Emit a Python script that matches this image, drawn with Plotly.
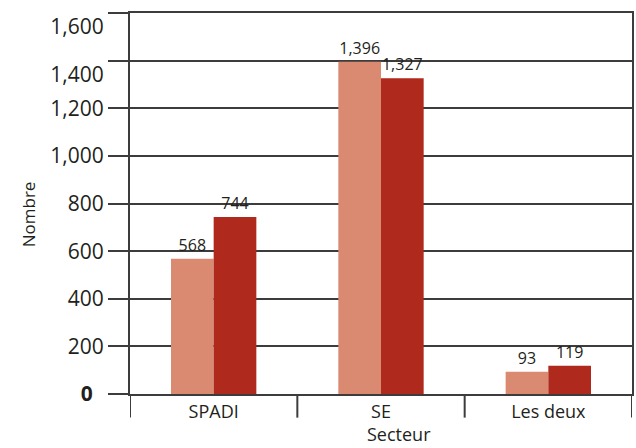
import plotly.graph_objects as go

categories = ["SPADI", "SE", "Les deux"]
series_a = [568, 1396, 93]
series_b = [744, 1327, 119]
y_tick_values = [0, 200, 400, 600, 800, 1000, 1200, 1400, 1600]
y_tick_labels = ["<b>0</b>&nbsp;&nbsp;", "200", "400", "600", "800", "1,000", "1,200",
                 "<br>1,400", "<br>1,600"]

FONT = "Open Sans"
LINE = "#3c3c3c"
TXT = "#231F20"

fig = go.Figure()
fig.add_trace(go.Bar(x=categories, y=series_a, marker_color="#D98A71", marker_line_width=0,
                     text=[f"{v:,}" for v in series_a], textposition="outside",
                     constraintext="none",
                     textfont=dict(size=16, color=TXT, family=FONT), cliponaxis=False))
fig.add_trace(go.Bar(x=categories, y=series_b, marker_color="#B0291D", marker_line_width=0,
                     text=[f"{v:,}" for v in series_b], textposition="outside",
                     constraintext="none",
                     textfont=dict(size=16, color=TXT, family=FONT), cliponaxis=False))

# category separator ticks below the axis
for xb in [-0.5, 0.5, 1.5, 2.5]:
    fig.add_shape(type="line", xref="x", yref="paper", x0=xb, x1=xb, y0=0, y1=-0.062,
                  line=dict(color=LINE, width=2))

fig.add_annotation(text="Secteur", xref="paper", yref="paper", x=0.536, y=-0.106,
                   xanchor="center", yanchor="middle", showarrow=False,
                   font=dict(size=18, family=FONT, color=TXT))
fig.add_annotation(text="Nombre", xref="paper", yref="paper", x=-0.203, y=0.472,
                   xanchor="center", yanchor="middle", textangle=-90, showarrow=False,
                   font=dict(size=17, family=FONT, color=TXT))

fig.update_layout(
    width=636, height=448,
    margin=dict(l=130, r=4, t=13, b=54),
    paper_bgcolor="white", plot_bgcolor="white",
    barmode="group", bargap=0.49, bargroupgap=0,
    showlegend=False,
    font=dict(family=FONT, color=TXT),
    xaxis=dict(
        range=[-0.5, 2.5], showline=True, mirror=True, linecolor=LINE, linewidth=2,
        ticks="", automargin=False,
        tickfont=dict(size=18, family=FONT, color=TXT),
    ),
    yaxis=dict(
        range=[0, 1601], tickvals=y_tick_values, ticktext=y_tick_labels,
        ticklabeloverflow="allow",
        showline=True, mirror=True, linecolor=LINE, linewidth=2, automargin=False,
        showgrid=True, gridcolor=LINE, gridwidth=1.5, zeroline=False,
        ticks="outside", ticklen=20, tickcolor=LINE, tickwidth=1.5,
        tickfont=dict(size=21, family=FONT, color=TXT),
    ),
)

fig.write_html("out.html", config={"displayModeBar": False},
               post_script="document.body.style.margin='0';")
